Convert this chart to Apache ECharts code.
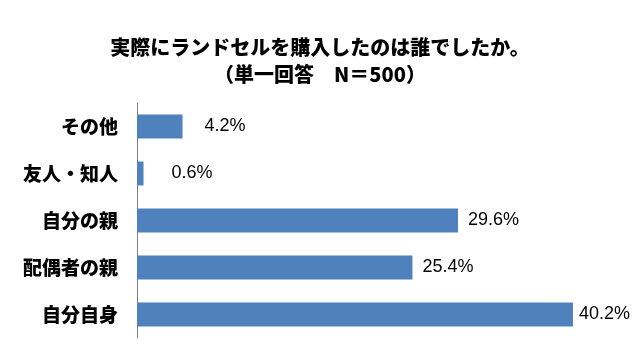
<!DOCTYPE html>
<html>
<head>
<meta charset="utf-8">
<script src="https://cdn.jsdelivr.net/npm/echarts@6/dist/echarts.min.js"></script>
<style>
  html, body { margin: 0; padding: 0; background: #fff; }
  #chart { width: 640px; height: 352px; }
</style>
</head>
<body>
<div id="chart"></div>
<script>
// 実際にランドセルを購入したのは誰か（単一回答 N=500）
const titleLines = ["実際にランドセルを購入したのは誰でしたか。", "（単一回答　N＝500）"];
const categories = ["その他", "友人・知人", "自分の親", "配偶者の親", "自分自身"];
const values = [4.2, 0.6, 29.6, 25.4, 40.2];

// gap between bar end and its label (layout only)
const labelGaps = [22, 28, 10, 10, 6];

const chart = echarts.init(document.getElementById("chart"));

const option = {
  backgroundColor: "#fff",
  animation: false,
  title: {
    text: titleLines.join("\n"),
    left: "center",
    top: 29,
    textStyle: {
      fontFamily: "Noto Sans CJK JP",
      fontSize: 20,
      fontWeight: 900,
      color: "#000",
      lineHeight: 27,
    },
  },
  grid: {
    left: 137,
    top: 103,
    width: 488,
    height: 235,
  },
  xAxis: {
    type: "value",
    min: 0,
    max: 45,
    show: false,
  },
  yAxis: {
    type: "category",
    data: categories,
    inverse: true,
    axisLine: { lineStyle: { color: "#7f7f7f", width: 1 } },
    axisTick: { show: false },
    axisLabel: {
      margin: 19,
      fontFamily: "Noto Sans CJK JP",
      fontSize: 19,
      fontWeight: 900,
      color: "#000",
    },
  },
  series: [
    {
      type: "bar",
      data: values.map((v, i) => ({ value: v, label: { distance: labelGaps[i] } })),
      barWidth: "51%",
      itemStyle: { color: "#4f81bd" },
      label: {
        show: true,
        position: "right",
        formatter: (p) => p.value.toFixed(1) + "%",
        fontFamily: "Liberation Sans",
        fontSize: 18,
        color: "#000",
      },
    },
  ],
};

chart.setOption(option);
</script>
</body>
</html>
